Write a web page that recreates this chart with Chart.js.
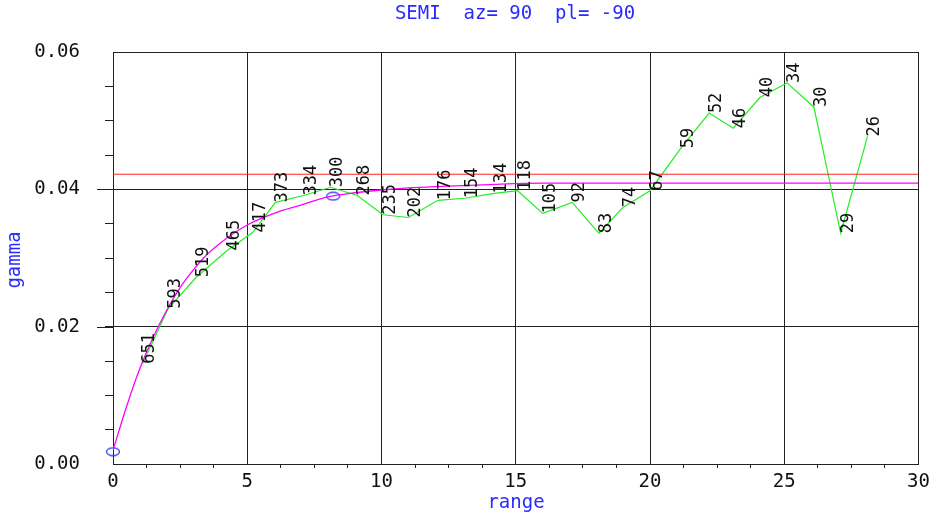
<!DOCTYPE html>
<html>
<head>
<meta charset="utf-8">
<script src="https://cdn.jsdelivr.net/npm/chart.js@4/dist/chart.umd.min.js"></script>
<style>
  body { margin: 0; background: #fff; }
  canvas { display: block; }
</style>
</head>
<body>
<canvas id="semiChart" width="933" height="515"></canvas>
<script>
// experimental semivariogram (green), lag distance / gamma / number of pairs
var lagX = [1.1, 2.05, 3.1, 4.25, 5.2, 6.05, 7.1, 8.1, 9.1, 10.05, 11.0, 12.1, 13.1, 14.2, 15.07,
            16.0, 17.1, 18.1, 19.0, 20.0, 21.15, 22.2, 23.1, 24.1, 25.1, 26.1, 27.1, 28.1];
var gammaY = [0.0146, 0.0226, 0.0272, 0.0311, 0.0337, 0.0381, 0.0391, 0.0403, 0.0391, 0.0363,
              0.0359, 0.0384, 0.0387, 0.0394, 0.0398, 0.0365, 0.0381, 0.0336, 0.0374, 0.0398,
              0.0460, 0.0511, 0.0489, 0.0534, 0.0555, 0.0520, 0.0336, 0.0477];
var pairCounts = [651, 593, 519, 465, 417, 373, 334, 300, 268, 235, 202, 176, 154, 134, 118,
                  105, 92, 83, 74, 67, 59, 52, 46, 40, 34, 30, 29, 26];

// fitted model (magenta)
var modelX = [0, 0.5, 1, 1.5, 2, 2.5, 3, 3.5, 4, 5, 6, 7, 8, 9, 10, 11, 12, 14, 16, 20, 30];
var modelY = [0.0020, 0.0083, 0.0139, 0.0185, 0.0224, 0.0257, 0.0283, 0.0305, 0.0322, 0.0348,
              0.0365, 0.0377, 0.0389, 0.0395, 0.0399, 0.0402, 0.0404, 0.0407, 0.0409, 0.0409, 0.0409];

// sill (red) and blue markers
var sillX = [0, 30];
var sillY = [0.0422, 0.0422];
var markerX = [0, 8.2];
var markerY = [0.0018, 0.0390];

var titleText = "SEMI  az= 90  pl= -90";
var xTitle = "range";
var yTitle = "gamma";

var FONT = "'DejaVu Sans Mono', monospace";
var BLUE = "#2a2aff";
var LINE = "#222";

function toPts(xs, ys) {
    return xs.map(function(x, i) { return { x: x, y: ys[i] }; });
}
function isMult(v, step) {
    var r = v / step;
    return Math.abs(r - Math.round(r)) < 1e-6;
}

// little blue ellipse marker
var ellipse = document.createElement("canvas");
ellipse.width = 16; ellipse.height = 10;
(function() {
    var c = ellipse.getContext("2d");
    c.strokeStyle = BLUE;
    c.lineWidth = 1.2;
    c.beginPath();
    c.ellipse(8, 5, 6.5, 3.8, 0, 0, Math.PI * 2);
    c.stroke();
})();

var extras = {
    id: "extras",
    afterDatasetsDraw: function(chart) {
        var ctx = chart.ctx;
        var xs = chart.scales.x, ys = chart.scales.y;
        var area = chart.chartArea;
        ctx.save();
        // longer ticks for inner major y lines
        ctx.strokeStyle = LINE;
        ctx.lineWidth = 1;
        [0.02, 0.04].forEach(function(v) {
            var py = Math.round(ys.getPixelForValue(v)) + 0.5;
            ctx.beginPath();
            ctx.moveTo(area.left - 16, py);
            ctx.lineTo(area.left, py);
            ctx.stroke();
        });
        // pair count labels, rotated
        ctx.fillStyle = "#111";
        ctx.font = "17px " + FONT;
        ctx.textAlign = "left";
        ctx.textBaseline = "top";
        pairCounts.forEach(function(n, i) {
            var px = xs.getPixelForValue(lagX[i]);
            var py = ys.getPixelForValue(gammaY[i]);
            ctx.save();
            ctx.translate(px - 1, py);
            ctx.rotate(-Math.PI / 2);
            ctx.fillText(String(n), 0, 0);
            ctx.restore();
        });
        // titles
        ctx.fillStyle = BLUE;
        ctx.font = "19px " + FONT;
        ctx.textAlign = "center";
        ctx.textBaseline = "middle";
        ctx.fillText(titleText, 515, 14);
        ctx.fillText(xTitle, 516, 503);
        ctx.save();
        ctx.translate(15, 260);
        ctx.rotate(-Math.PI / 2);
        ctx.fillText(yTitle, 0, 0);
        ctx.restore();
        ctx.restore();
    }
};

document.addEventListener("DOMContentLoaded", function() {
    var el = document.getElementById("semiChart");
    new Chart(el, {
        type: "scatter",
        data: {
            datasets: [{
                label: "sill",
                data: toPts(sillX, sillY),
                showLine: true,
                borderColor: "#ff2020",
                borderWidth: 1,
                pointRadius: 0
            }, {
                label: "model",
                data: toPts(modelX, modelY),
                showLine: true,
                borderColor: "#ff00ff",
                borderWidth: 1.3,
                pointRadius: 0,
                cubicInterpolationMode: "monotone"
            }, {
                label: "experimental",
                data: toPts(lagX, gammaY),
                showLine: true,
                borderColor: "#22ee22",
                borderWidth: 1.2,
                pointRadius: 0
            }, {
                label: "markers",
                data: toPts(markerX, markerY),
                pointStyle: ellipse,
                pointRadius: 6,
                clip: false
            }]
        },
        options: {
            responsive: false,
            animation: false,
            devicePixelRatio: 1,
            layout: { padding: { top: 52, right: 13, left: 0, bottom: 0 } },
            plugins: { legend: { display: false }, tooltip: { enabled: false } },
            scales: {
                x: {
                    type: "linear",
                    min: 0,
                    max: 30,
                    afterFit: function(s) { s.height = 51; },
                    border: { color: LINE },
                    grid: {
                        color: function(c) { return isMult(c.tick.value, 5) ? LINE : "rgba(0,0,0,0)"; },
                        tickColor: function(c) { return isMult(c.tick.value, 5) ? "rgba(0,0,0,0)" : LINE; },
                        tickLength: 4
                    },
                    ticks: {
                        stepSize: 1.25,
                        autoSkip: false,
                        maxRotation: 0,
                        padding: 3,
                        color: "#111",
                        font: { family: FONT, size: 19 },
                        callback: function(v) { return isMult(v, 5) ? String(Math.round(v)) : ""; }
                    }
                },
                y: {
                    type: "linear",
                    min: 0,
                    max: 0.06,
                    afterFit: function(s) { s.width = 113; },
                    border: { color: LINE },
                    grid: {
                        color: function(c) { return isMult(c.tick.value, 0.02) ? LINE : "rgba(0,0,0,0)"; },
                        tickColor: function(c) {
                            var v = c.tick.value;
                            return (v < 1e-6 || v > 0.0599) ? "rgba(0,0,0,0)" : LINE;
                        },
                        tickLength: 8
                    },
                    ticks: {
                        stepSize: 0.005,
                        autoSkip: false,
                        padding: 25,
                        color: "#111",
                        font: { family: FONT, size: 19 },
                        callback: function(v) { return isMult(v, 0.02) ? v.toFixed(2) : ""; }
                    }
                }
            }
        },
        plugins: [extras]
    });
});
</script>
</body>
</html>
